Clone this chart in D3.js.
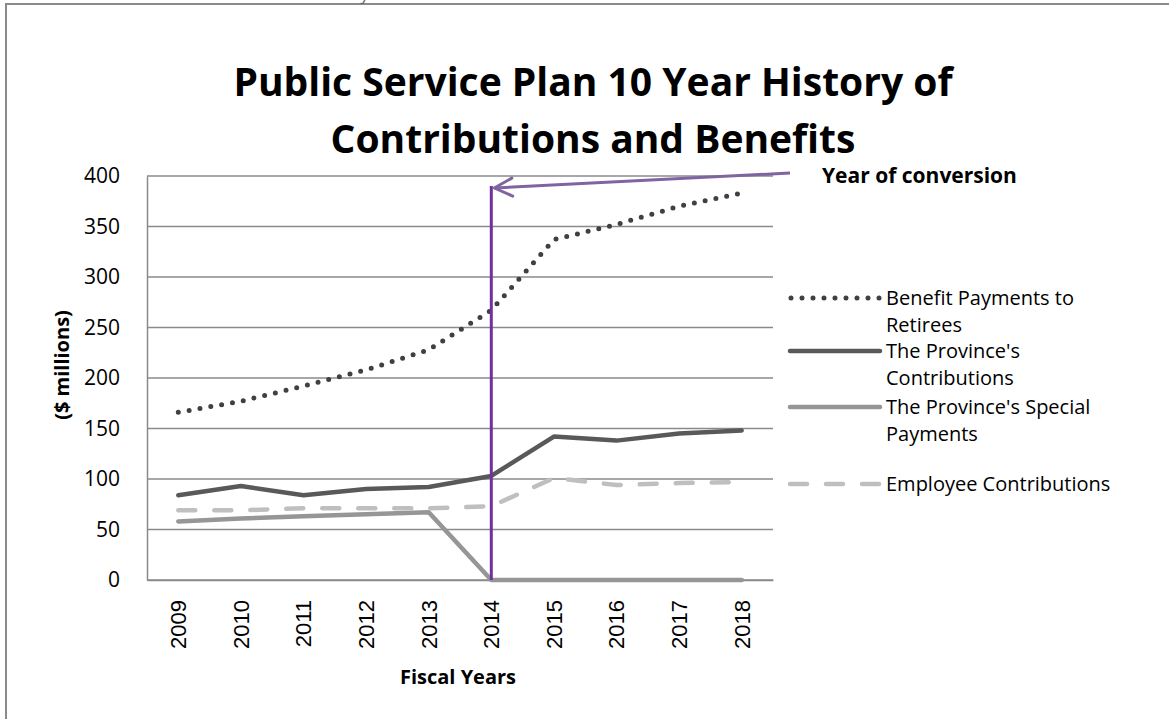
<!DOCTYPE html>
<meta charset="utf-8">
<script src="https://d3js.org/d3.v7.min.js"></script>
<style>
body { margin: 0; background: #fff; }
text { font-family: "Open Sans", "Noto Sans", sans-serif; fill: #000; }
.tick-x { font-family: "Liberation Sans", Arial, sans-serif; }
</style>
<svg id="chart" width="1169" height="719"></svg>
<script>
// fiscal years and series (in $ millions)
const years = ["2009", "2010", "2011", "2012", "2013", "2014", "2015", "2016", "2017", "2018"];
const benefitPayments = [166, 177, 192, 208, 228, 267, 337, 352, 370, 383];
const provinceContrib = [84, 93, 84, 90, 92, 103, 142, 138, 145, 148];
const specialPayments = [58, 61, 63, 65, 67, 0, 0, 0, 0, 0];
const employeeContrib = [69, 69, 71, 71, 71, 73, 101, 94, 96, 97];
const yTicks = [0, 50, 100, 150, 200, 250, 300, 350, 400];
const conversionYear = "2014";

const series = [
  { name: ["Benefit Payments to", "Retirees"], values: benefitPayments, color: "#404040", dash: "0,11", cap: "round", width: 5 },
  { name: ["The Province's", "Contributions"], values: provinceContrib, color: "#595959", dash: null, cap: "round", width: 4.5 },
  { name: ["The Province's Special", "Payments"], values: specialPayments, color: "#969696", dash: null, cap: "round", width: 4.5 },
  { name: ["Employee Contributions"], values: employeeContrib, color: "#bfbfbf", dash: "17,19", cap: "round", width: 4.5 }
];

const svg = d3.select("#chart");

// outer chart frame (runs off the page on right/bottom)
svg.append("rect")
  .attr("x", 6).attr("y", 4)
  .attr("width", 1300).attr("height", 900)
  .attr("fill", "none")
  .attr("stroke", "#8a8a8a")
  .attr("stroke-width", 2);

// caption line above the frame, mostly off the page as in the source
svg.append("text")
  .attr("x", 30).attr("y", 0)
  .style("font-size", "17px")
  .style("fill", "#666")
  .text("Chart 4: Public Service Plan 10 Year History of Contributions and Benefits");

// title
const title = svg.append("text")
  .attr("text-anchor", "middle")
  .style("font-size", "39px")
  .style("font-weight", "bold");
title.append("tspan").attr("x", 593).attr("y", 96).text("Public Service Plan 10 Year History of");
title.append("tspan").attr("x", 593).attr("y", 153).text("Contributions and Benefits");

const plot = { left: 147, right: 773, top: 176, bottom: 580 };

const x = d3.scaleBand()
  .domain(years)
  .range([plot.left, plot.right]);

const y = d3.scaleLinear()
  .domain([0, 400])
  .range([plot.bottom, plot.top]);

const cx = d => x(d) + x.bandwidth() / 2;

// gridlines
svg.append("g")
  .selectAll("line")
  .data(yTicks)
  .join("line")
  .attr("x1", plot.left).attr("x2", plot.right)
  .attr("y1", d => y(d)).attr("y2", d => y(d))
  .attr("stroke", "#8a8a8a")
  .attr("stroke-width", 1.5);

// y axis
const yAxis = svg.append("g")
  .attr("transform", `translate(${plot.left},0)`)
  .call(d3.axisLeft(y).tickValues(yTicks).tickSize(0).tickPadding(27));
yAxis.select(".domain").attr("stroke", "#8a8a8a").attr("stroke-width", 1.5);
yAxis.selectAll("text")
  .style("font-family", "'Open Sans', sans-serif")
  .style("font-size", "21px")
  .attr("fill", "#000");

// x axis
const xAxis = svg.append("g")
  .attr("transform", `translate(0,${plot.bottom})`)
  .call(d3.axisBottom(x).tickSize(0).tickPadding(0));
xAxis.select(".domain").attr("stroke", "#8a8a8a").attr("stroke-width", 1.5);
xAxis.selectAll("text")
  .attr("class", "tick-x")
  .style("font-size", "22px")
  .attr("fill", "#000")
  .attr("text-anchor", "end")
  .attr("transform", "rotate(-90)")
  .attr("x", -20)
  .attr("y", 0)
  .attr("dy", "0.36em");

// axis titles
svg.append("text")
  .attr("transform", "translate(62,365) rotate(-90)")
  .attr("text-anchor", "middle")
  .attr("dy", "0.35em")
  .style("font-size", "20px")
  .style("font-weight", "bold")
  .text("($ millions)");

svg.append("text")
  .attr("x", 458).attr("y", 684)
  .attr("text-anchor", "middle")
  .style("font-size", "20px")
  .style("font-weight", "bold")
  .text("Fiscal Years");

// lines
const line = d3.line()
  .x((d, i) => cx(years[i]))
  .y(d => y(d));

svg.append("g")
  .selectAll("path")
  .data(series)
  .join("path")
  .attr("d", d => line(d.values))
  .attr("fill", "none")
  .attr("stroke", d => d.color)
  .attr("stroke-width", d => d.width)
  .attr("stroke-dasharray", d => d.dash)
  .attr("stroke-linecap", d => d.cap)
  .attr("stroke-linejoin", "round");

// year of conversion marker
const convX = cx(conversionYear);
svg.append("line")
  .attr("x1", convX).attr("x2", convX)
  .attr("y1", y(0)).attr("y2", 186)
  .attr("stroke", "#7030a0")
  .attr("stroke-width", 3);

// open arrowhead, tip at the end of the line
svg.append("defs").append("marker")
  .attr("id", "arrow")
  .attr("viewBox", "0 0 24 24")
  .attr("refX", 21).attr("refY", 12)
  .attr("markerWidth", 24).attr("markerHeight", 24)
  .attr("markerUnits", "userSpaceOnUse")
  .attr("orient", "auto")
  .append("path")
  .attr("d", "M3,3 L21,12 L3,21")
  .attr("fill", "none")
  .attr("stroke", "#8064a2")
  .attr("stroke-width", 3)
  .attr("stroke-linecap", "round")
  .attr("stroke-linejoin", "round");

svg.append("line")
  .attr("x1", 790).attr("y1", 173)
  .attr("x2", convX + 3).attr("y2", 188)
  .attr("stroke", "#8064a2")
  .attr("stroke-width", 3)
  .attr("marker-end", "url(#arrow)");

svg.append("text")
  .attr("x", 822).attr("y", 183)
  .style("font-size", "21px")
  .style("font-weight", "bold")
  .text("Year of conversion");

// legend
const legendRows = [298, 351, 407, 484];
const legend = svg.append("g")
  .selectAll("g")
  .data(series)
  .join("g")
  .attr("transform", (d, i) => `translate(0,${legendRows[i]})`);

legend.append("line")
  .attr("x1", d => d.dash === "0,11" ? 791 : 790)
  .attr("x2", 880)
  .attr("stroke", d => d.color)
  .attr("stroke-width", d => d.width)
  .attr("stroke-dasharray", d => d.dash)
  .attr("stroke-linecap", d => d.cap);

legend.append("text")
  .attr("x", 886)
  .style("font-size", "20px")
  .selectAll("tspan")
  .data(d => d.name)
  .join("tspan")
  .attr("x", 886)
  .attr("dy", (d, i) => i === 0 ? "0.35em" : "1.35em")
  .text(d => d);
</script>
